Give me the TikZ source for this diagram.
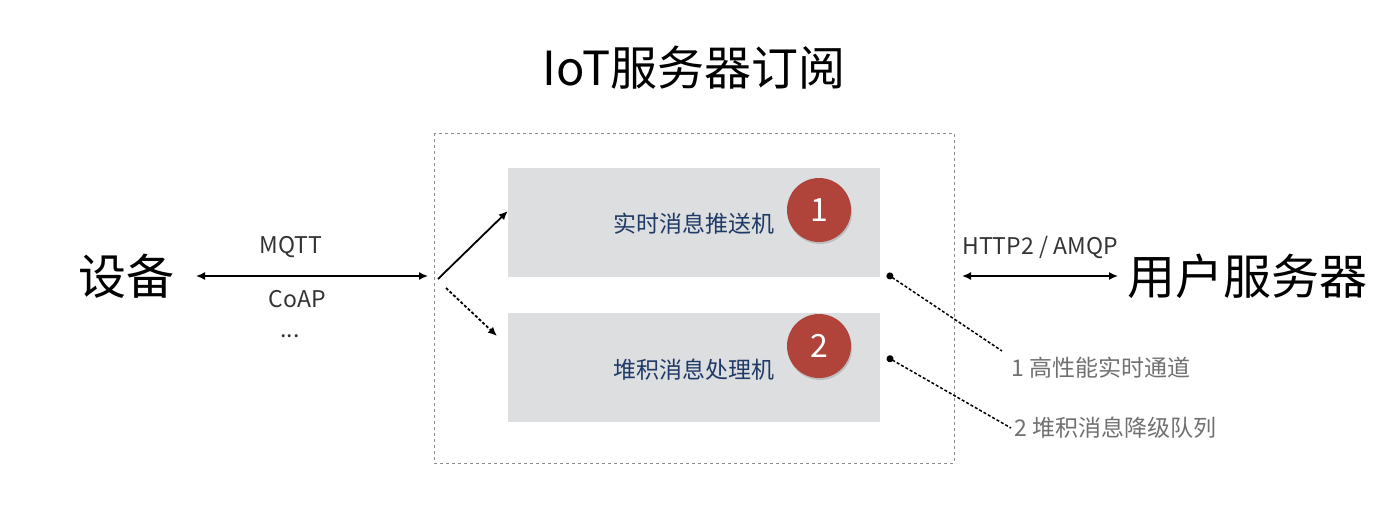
\documentclass[tikz,border=0pt]{standalone}
\usepackage{fontspec}
\setmainfont{Noto Sans CJK SC}
\usetikzlibrary{arrows.meta,positioning,shadows}

\definecolor{boxgray}{HTML}{DCDEE0}
\definecolor{badgered}{HTML}{B0433A}
\definecolor{labelblue}{HTML}{1F3A66}
\definecolor{notegray}{HTML}{707070}

\begin{document}
\begin{tikzpicture}[
    x=1pt, y=-1pt,
    frame/.style={draw=black!45, dashed, line width=1pt},
    engine/.style={fill=boxgray, minimum width=372pt, minimum height=109pt, inner sep=0pt},
    badge/.style={circle, fill=badgered, minimum size=64pt, inner sep=0pt, text=white,
      font=\fontsize{32}{34}\selectfont, drop shadow={opacity=0.35, shadow xshift=1pt, shadow yshift=-2pt}},
    big/.style={font=\fontsize{48}{52}\selectfont},
    proto/.style={font=\fontsize{23}{25}\selectfont, text=black!80},
    note/.style={font=\fontsize{23}{25}\selectfont, text=notegray, anchor=west},
    both/.style={{Latex[length=9pt,width=8pt]}-{Latex[length=9pt,width=8pt]}, line width=1.6pt},
    arrow/.style={-{Latex[length=9pt,width=8pt]}, line width=1.8pt},
    pointer/.style={{Circle[length=7pt]}-, densely dashed, line width=1.5pt}
  ]
    \useasboundingbox (0,0) rectangle (1400,530);

    \node[font=\fontsize{47}{50}\selectfont] (title) at (694,68) {IoT服务器订阅};

    \draw[frame] (434,133) rectangle (954,463);
    \node[engine] (push) at (694,222.5) {};
    \node[engine] (pile) at (694,367) {};
    \node[text=labelblue, font=\fontsize{23}{25}\selectfont] (pushtxt) at (694,224) {实时消息推送机};
    \node[text=labelblue, font=\fontsize{23}{25}\selectfont] (piletxt) at (694,370) {堆积消息处理机};
    \node[badge] (one) at (819,210) {1};
    \node[badge] (two) at (819,346) {2};

    \node[big] (device) at (126,276) {设备};
    \node[big] (server) at (1247,276) {用户服务器};

    % protocols
    \coordinate (devR) at (196,276);
    \coordinate (hub) at (428,276);
    \draw[both] (devR) -- (hub);
    \node[proto] (mqtt) at (291,247) {MQTT};
    \node[proto] (coap) at (297,299) {CoAP};
    \node[proto] (more) at (290,336) {...};

    \coordinate (srvL) at (962,276);
    \coordinate (srvR) at (1118,276);
    \draw[both] (srvL) -- (srvR);
    \node[proto] (http) at (1040,247) {HTTP2 / AMQP};

    % fan out
    \coordinate (fanA) at (438,279);
    \coordinate (fanB) at (446,288);
    \draw[arrow] (fanA) -- (push.west |- 0,211);
    \draw[arrow, densely dashed] (fanB) -- (497,336);

    % notes
    \node[note] (n1) at (1008,368) {1 高性能实时通道};
    \node[note] (n2) at (1011,428) {2 堆积消息降级队列};
    \coordinate (p1) at (887,274);
    \coordinate (p2) at (887,357);
    \draw[pointer] (p1) -- (1002,351);
    \draw[pointer] (p2) -- (n2.west);
  \end{tikzpicture}
\end{document}
